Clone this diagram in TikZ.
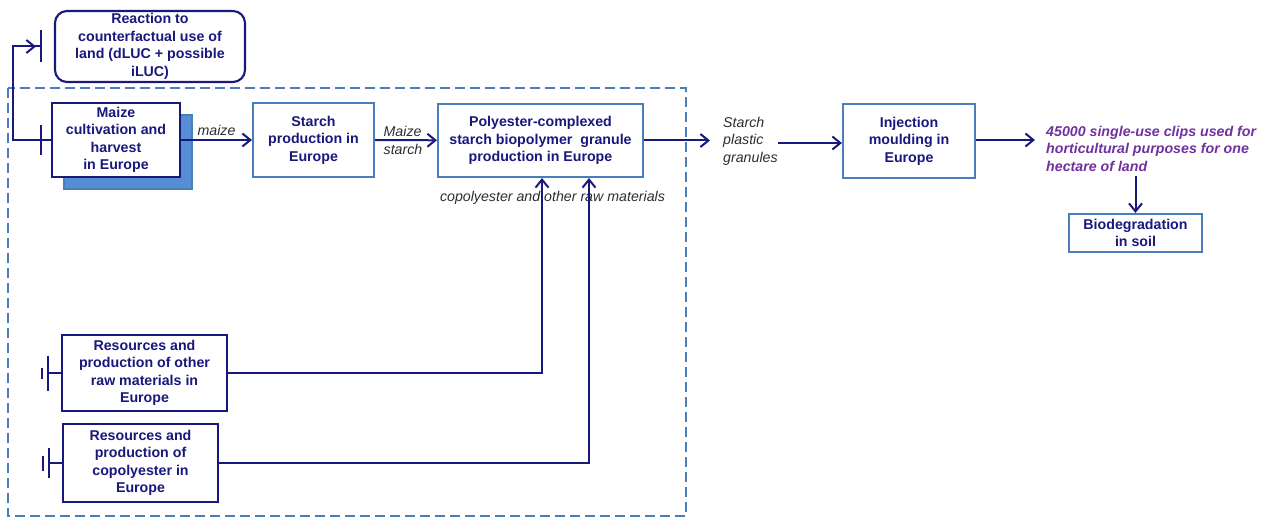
\documentclass[tikz,border=0pt]{standalone}
\usepackage{fontspec}
\setmainfont{Liberation Sans}
\usetikzlibrary{arrows.meta, shadows}
\definecolor{navy}{RGB}{24,24,125}
\definecolor{steel}{RGB}{74,126,187}
\definecolor{shadowblue}{RGB}{85,142,213}
\definecolor{labelgray}{RGB}{45,45,45}
\definecolor{clipviolet}{RGB}{112,48,160}

\begin{document}
\begin{tikzpicture}[x=1pt, y=-1pt,
    boxtext/.style={font=\fontsize{14.2pt}{17.5pt}\selectfont\bfseries, text=navy, align=center, inner sep=0pt},
    navybox/.style={boxtext, draw=navy, line width=2.1pt, fill=white},
    bluebox/.style={boxtext, draw=steel, line width=2.1pt, fill=white},
    lbl/.style={font=\fontsize{14.2pt}{17.5pt}\selectfont\itshape, text=labelgray, inner sep=0pt},
    flow/.style={draw=navy, line width=2pt, -{Straight Barb[length=8pt, width=13pt]}},
    cutbar/.style={draw=navy, line width=2pt}]
    \useasboundingbox (0,0) rectangle (1268,518);

    % System boundary
    \draw[steel, line width=2.8pt, dash pattern=on 10pt off 5pt] (8,88) rectangle (686,516);

    % Land use
    \node (reaction) at (150,46.5) [navybox, rounded corners=12pt, minimum width=190pt, minimum height=71pt] {Reaction to\\counterfactual use of\\land (dLUC + possible\\iLUC)};
    \node (maize) at (116,140) [navybox, minimum width=128pt, minimum height=74pt, drop shadow={shadow xshift=12pt, shadow yshift=-12pt, fill=shadowblue, draw=steel, opacity=1}] {Maize\\cultivation and\\harvest\\in Europe};
    \draw[flow, -{Straight Barb[length=8pt, width=13pt, sep=4pt] Bar[width=32pt]}, shorten >=12pt] (maize.west) -- ++(-38,0) |- (reaction.west);
    \draw[cutbar] ([xshift=-10pt]maize.west) +(0,-15) -- +(0,15);

    % Main chain
    \node (starch) at (313.5,140) [bluebox, minimum width=121pt, minimum height=74pt] {Starch\\production in\\Europe};
    \node (poly) at (540.5,140.5) [bluebox, minimum width=205pt, minimum height=73pt] {Polyester-complexed\\starch biopolymer~ granule\\production in Europe};
    \draw[flow] (maize) -- node[lbl, above, inner sep=3pt] {maize} (starch);
    \draw[flow] (starch) -- node[lbl, align=left, xshift=-3pt] {Maize\\starch} (poly);

    \node (granules) at (723,141) [lbl, anchor=west, align=left] {Starch\\plastic\\granules};
    \node (injection) at (909,141) [bluebox, minimum width=132pt, minimum height=74pt] {Injection\\moulding in\\Europe};
    \draw[flow, shorten >=13pt] (poly.east) -- (poly.east -| granules.west);
    \draw[flow] ([yshift=-2pt]granules.east) -- ([yshift=-2pt]injection.west);

    % Product and end of life
    \node (clips) at (1046,148.5) [anchor=west, align=left, inner sep=0pt, text=clipviolet, font=\fontsize{14.2pt}{17.5pt}\selectfont\bfseries\itshape] {45000 single-use clips used for\\horticultural purposes for one\\hectare of land};
    \node (biodeg) at (1135.5,233) [bluebox, minimum width=133pt, minimum height=38pt] {Biodegradation\\in soil};
    \draw[flow, shorten >=11pt] ([yshift=1pt]injection.east) -- ([yshift=1pt]injection.east -| clips.west);
    \draw[flow, shorten <=5pt] (clips.south -| biodeg.north) -- (biodeg.north);

    % Other inputs
    \node (rawlabel) at (552.5,198) [lbl] {copolyester and other raw materials};
    \node (resA) at (144.5,373) [navybox, minimum width=165pt, minimum height=76pt] {Resources and\\production of other\\raw materials in\\Europe};
    \node (resB) at (140.5,463) [navybox, minimum width=155pt, minimum height=78pt] {Resources and\\production of\\copolyester in\\Europe};
    \draw[flow] (resA.east) -| ([xshift=1.5pt]poly.south);
    \draw[flow] (resB.east) -| ([xshift=48.5pt]poly.south);
    \draw[cutbar] (resA.west) -- ++(-13,0) +(0,-17.5) -- +(0,17.5) ++(-5.5,0) +(0,-5.5) -- +(0,5.5);
    \draw[cutbar] (resB.west) -- ++(-13,0) +(0,-15) -- +(0,15) ++(-5.5,0) +(0,-7.5) -- +(0,7.5);
\end{tikzpicture}
\end{document}
